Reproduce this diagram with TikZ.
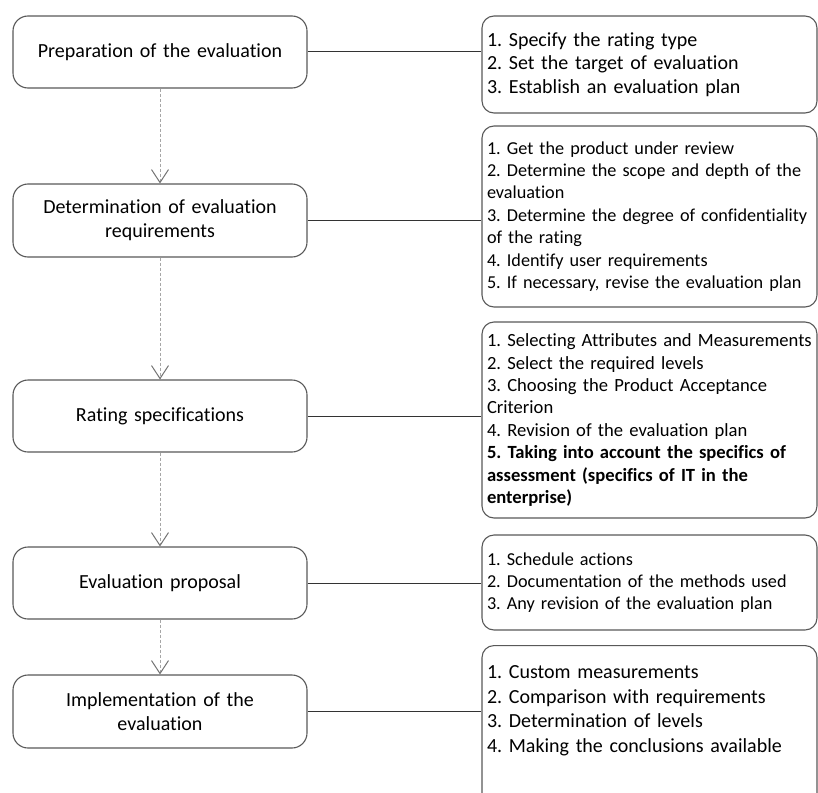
\documentclass[tikz,border=0pt]{standalone}
\usepackage{fontspec}
\setmainfont{Carlito}[Ligatures={NoCommon}]
\usepackage{tikz}
\usetikzlibrary{positioning, arrows.meta}
\frenchspacing
\hyphenpenalty=10000
\exhyphenpenalty=10000

\begin{document}
\begin{tikzpicture}[
    x=1pt, y=-1pt,
    stage/.style={draw=black!65, line width=1.1pt, rounded corners=15pt, fill=white,
        minimum width=294pt, text width=260pt, inner xsep=17pt, align=center,
        font=\fontsize{20}{24}\selectfont},
    tasks/.style={draw=black!65, line width=1.1pt, rounded corners=12pt, fill=white,
        text width=325pt, inner xsep=5pt, align=left},
    link/.style={line width=1pt, black!80},
    flow/.style={-{Straight Barb[length=13pt, width=17pt, color=black!55]}, line width=1pt,
        black!35, dash pattern=on 3pt off 2pt}
]

    \clip (0, 0) rectangle (818, 792);

    % === Stages ===
    \node[stage, minimum height=72pt] (prep) at (160, 52) {Preparation of the evaluation};
    \node[stage, minimum height=73pt] (req) at (160, 220.5) {Determination of evaluation\\ requirements};
    \node[stage, minimum height=72pt] (spec) at (160, 416) {Rating specifications};
    \node[stage, minimum height=72pt] (prop) at (160, 583) {Evaluation proposal};
    \node[stage, minimum height=73pt] (impl) at (160, 711.5) {Implementation of the\\ evaluation};

    % === Task lists ===
    \node[tasks, minimum height=97pt, font=\fontsize{20}{23.5}\selectfont] (prepList) at (649.5, 64.5)
        {1. Specify the rating type\\ 2. Set the target of evaluation\\ 3. Establish an evaluation plan};
    \node[tasks, minimum height=181pt, font=\fontsize{18.2}{22.4}\selectfont] (reqList) at (649.5, 216.5)
        {1. Get the product under review\\ 2. Determine the scope and depth of the\\ evaluation\\
         3. Determine the degree of confidentiality\\ of the rating\\ 4. Identify user requirements\\
         5. If necessary, revise the evaluation plan};
    \node[tasks, minimum height=196pt, font=\fontsize{18.6}{22.4}\selectfont] (specList) at (649.5, 420)
        {1. Selecting Attributes and Measurements\\ 2. Select the required levels\\
         3. Choosing the Product Acceptance\\ Criterion\\ 4. Revision of the evaluation plan\\
         \textbf{5. Taking into account the specifics of}\\ \textbf{assessment (specifics of IT in the}\\
         \textbf{enterprise)}};
    \node[tasks, minimum height=95pt, font=\fontsize{18.2}{22}\selectfont] (propList) at (649.5, 582.5)
        {1. Schedule actions\\ 2. Documentation of the methods used\\ 3. Any revision of the evaluation plan};
    \node[tasks, anchor=north, inner ysep=0pt, font=\fontsize{20}{24.5}\selectfont] (implList) at (649.5, 645)
        {\parbox[c][165pt][t]{325pt}{\vspace*{20pt}1. Custom measurements\\ 2. Comparison with requirements\\
         3. Determination of levels\\ 4. Making the conclusions available}};

    % === Links ===
    \draw[link] (prep.east) -- (prep.east -| prepList.west);
    \draw[link] (req.east) -- (req.east -| reqList.west);
    \draw[link] (spec.east) -- (spec.east -| specList.west);
    \draw[link] (prop.east) -- (prop.east -| propList.west);
    \draw[link] (impl.east) -- (impl.east -| implList.west);

    % === Flow ===
    \draw[flow] (prep.south) -- (req.north);
    \draw[flow] (req.south) -- (spec.north);
    \draw[flow] (spec.south) -- (prop.north);
    \draw[flow] (prop.south) -- (impl.north);

\end{tikzpicture}
\end{document}
